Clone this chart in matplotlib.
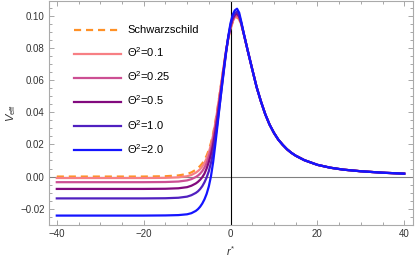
import matplotlib
matplotlib.use('Agg')
import matplotlib.pyplot as plt
from matplotlib.ticker import MultipleLocator, FuncFormatter

plt.rcParams['font.family'] = ['Liberation Sans', 'DejaVu Sans']
plt.rcParams['mathtext.fontset'] = 'custom'
plt.rcParams['mathtext.rm'] = 'Liberation Sans'
plt.rcParams['mathtext.it'] = 'Liberation Sans:italic'

#%% values

# tortoise coordinate, left part (where the curves differ)
r_left = [-40, -20, -15, -12, -10, -9, -8, -7.5, -7, -6.5, -6, -5.5, -5, -4.5, -4,
          -3.5, -3, -2.5, -2, -1.5, -1, -0.5, 0, 0.5, 1, 1.5, 2, 2.5, 3]
# right part, all curves on top of each other
r_tail = [4, 5, 6, 7, 8, 9, 10, 11, 12, 13, 14, 15, 17, 20, 23, 26, 30, 35, 40]
v_tail = [0.0780, 0.0668, 0.0558, 0.0468, 0.0388, 0.0323, 0.0272, 0.0230, 0.0198,
          0.0170, 0.0148, 0.0130, 0.0102, 0.0073, 0.0055, 0.0043, 0.0033, 0.0024, 0.0018]

v_schw = [0.0000, 0.0000, 0.0002, 0.0007, 0.0016, 0.0026, 0.0042, 0.0053, 0.0066,
          0.0082, 0.0103, 0.0130, 0.0165, 0.0210, 0.0268, 0.0340, 0.0425, 0.0515,
          0.0608, 0.0700, 0.0787, 0.0862, 0.0920, 0.0960, 0.0984, 0.0993, 0.0978,
          0.0942, 0.0895]
v_01 = [-0.0009, -0.0009, -0.0008, -0.0005, 0.0002, 0.0010, 0.0024, 0.0034, 0.0046,
        0.0063, 0.0085, 0.0113, 0.0150, 0.0198, 0.0258, 0.0332, 0.0418, 0.0510,
        0.0604, 0.0697, 0.0786, 0.0863, 0.0923, 0.0966, 0.0991, 0.1000, 0.0984,
        0.0945, 0.0894]
v_025 = [-0.0035, -0.0035, -0.0034, -0.0031, -0.0024, -0.0016, -0.0003, 0.0006, 0.0018,
         0.0034, 0.0056, 0.0085, 0.0123, 0.0172, 0.0234, 0.0311, 0.0400, 0.0497,
         0.0596, 0.0694, 0.0787, 0.0866, 0.0929, 0.0973, 0.0998, 0.1006, 0.0990,
         0.0948, 0.0893]
v_05 = [-0.0077, -0.0077, -0.0076, -0.0073, -0.0066, -0.0057, -0.0043, -0.0033, -0.0020,
        -0.0004, 0.0018, 0.0050, 0.0090, 0.0138, 0.0200, 0.0280, 0.0372, 0.0472,
        0.0575, 0.0680, 0.0782, 0.0869, 0.0936, 0.0983, 0.1007, 0.1015, 0.0997,
        0.0952, 0.0894]
v_10 = [-0.0136, -0.0136, -0.0135, -0.0132, -0.0125, -0.0116, -0.0102, -0.0092, -0.0078,
        -0.0060, -0.0036, -0.0006, 0.0033, 0.0085, 0.0152, 0.0238, 0.0338, 0.0445,
        0.0555, 0.0665, 0.0775, 0.0868, 0.0944, 0.0994, 0.1018, 0.1026, 0.1005,
        0.0955, 0.0895]
v_20 = [-0.0243, -0.0243, -0.0242, -0.0240, -0.0235, -0.0228, -0.0214, -0.0203, -0.0188,
        -0.0168, -0.0142, -0.0108, -0.0062, 0.0002, 0.0090, 0.0200, 0.0318, 0.0440,
        0.0560, 0.0675, 0.0783, 0.0876, 0.0955, 0.1008, 0.1035, 0.1045, 0.1020,
        0.0962, 0.0898]

labels = ['Schwarzschild', 'Θ$^{2}$=0.1', 'Θ$^{2}$=0.25', 'Θ$^{2}$=0.5',
          'Θ$^{2}$=1.0', 'Θ$^{2}$=2.0']
colors = ['#ff9126', '#f77f84', '#cc4f93', '#820a7e', '#5020c0', '#1414ff']

#%%

fig = plt.figure(figsize=(4.15, 2.6), dpi=100)
ax = fig.add_axes([0.118, 0.135, 0.877, 0.863])

r = r_left + r_tail
series = [v_schw, v_01, v_025, v_05, v_10, v_20]
for i, v in enumerate(series):
    if i == 0:
        ax.plot(r, v + v_tail, color=colors[i], lw=1.6, ls=(0, (3.2, 2.2)), label=labels[i], zorder=3)
    else:
        ax.plot(r, v + v_tail, color=colors[i], lw=1.6, label=labels[i], zorder=3 + i)

ax.axhline(0, color='#808080', lw=0.8, zorder=2)
ax.axvline(0, color='black', lw=0.8, zorder=2)

ax.set_xlim(-41.8, 42.0)
ax.set_ylim(-0.0301, 0.1096)

ax.xaxis.set_major_locator(MultipleLocator(20))
ax.xaxis.set_minor_locator(MultipleLocator(5))
ax.yaxis.set_major_locator(MultipleLocator(0.02))
ax.yaxis.set_minor_locator(MultipleLocator(0.005))
ax.xaxis.set_major_formatter(FuncFormatter(lambda x, p: ('%d' % round(x)).replace('-', '\u2212')))
ax.yaxis.set_major_formatter(FuncFormatter(lambda y, p: ('%.2f' % (0 if abs(y) < 1e-9 else y)).replace('-', '\u2212')))

ax.tick_params(which='both', direction='in', top=True, right=True, colors='#999999',
               labelcolor='#333333', labelsize=7, width=0.6)
ax.tick_params(which='major', length=3.5, pad=3)
ax.tick_params(which='minor', length=2)
for s in ax.spines.values():
    s.set_color('#aaaaaa')
    s.set_linewidth(0.8)

ax.set_xlabel('$r^{*}$', fontsize=8, color='#333333', labelpad=4)
ax.set_ylabel('$V_{\\mathrm{eff}}$', fontsize=8, color='#333333', labelpad=2)

ax.legend(loc='upper left', bbox_to_anchor=(0.07, 0.889), frameon=False, fontsize=8,
          handlelength=4.2, handletextpad=0.57, labelspacing=0.92, borderpad=0, borderaxespad=0)

fig.savefig('out.png', dpi=100)
